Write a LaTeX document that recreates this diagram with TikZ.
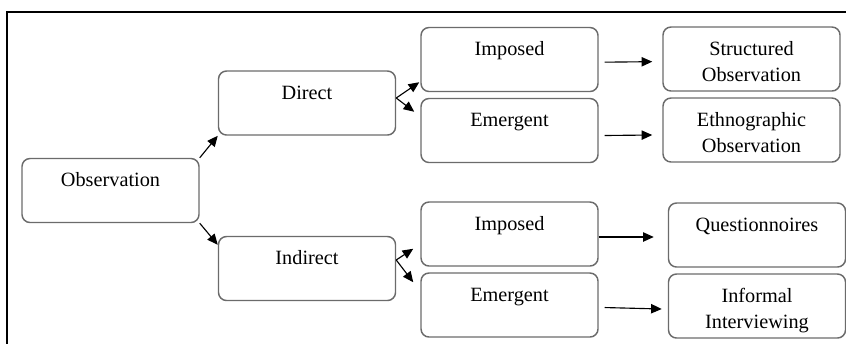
\documentclass[tikz,border=0pt]{standalone}
\usepackage{fontspec}
\setmainfont{Liberation Serif}
\usetikzlibrary{shapes, arrows.meta, positioning}
\newcommand{\topstrut}{\rule{0pt}{21pt}}
\newcommand{\botstrut}{\rule[-7pt]{0pt}{0pt}}

\begin{document}
\begin{tikzpicture}[
x=0.75pt, y=-0.75pt,
block/.style={rectangle, rounded corners=6pt, draw=black!58, line width=1.1pt,
    text width=132.75pt, minimum height=48pt, inner sep=0pt, align=center,
    font=\fontsize{15.2}{20}\selectfont, node distance=53.25pt},
line/.style={draw, line width=0.85pt, -{Triangle[length=8pt,width=7pt]}},
frame/.style={draw, line width=0.8pt}
]
\useasboundingbox (0,0) rectangle (846,344);
\draw [frame] (846,12) -- (7,12) -- (7,344);

\node [block] (obs) at (110.5,190.5) {\topstrut Observation\\\botstrut};
\node [block] (direct) at (307,103) {\topstrut Direct\\\botstrut};
\node [block] (indirect) at (307,268.5) {\topstrut Indirect\\\botstrut};

\node [block] (imp-d) at (509.5,59.5) {\topstrut Imposed\\\botstrut};
\node [block, below of=imp-d] (emg-d) {\topstrut Emergent\\\botstrut};
\node [block] (imp-i) at (509.5,234) {\topstrut Imposed\\\botstrut};
\node [block, below of=imp-i] (emg-i) {\topstrut Emergent\\\botstrut};

\node [block] (struct) at (751.5,59) {\topstrut Structured\\Observation\botstrut};
\node [block, below of=struct] (ethno) {\topstrut Ethnographic\\Observation\botstrut};
\node [block] (quest) at (757,235) {\topstrut Questionnoires\\\botstrut};
\node [block, below of=quest] (informal) {\topstrut Informal\\Interviewing\botstrut};

\draw [line] (obs.north east) -- (direct.south west);
\draw [line] (obs.south east) -- ([yshift=-6.75pt]indirect.north west);
\draw [line] ([yshift=3.75pt]direct.east) -- ([xshift=-0.75pt,yshift=7.5pt]imp-d.south west);
\draw [line] ([yshift=3.75pt]direct.east) -- ([xshift=-4.5pt,yshift=-10.5pt]emg-d.north west);
\draw [line] ([yshift=6.4pt]indirect.east) -- ([xshift=-5.25pt,yshift=13.5pt]imp-i.south west);
\draw [line] ([yshift=6.4pt]indirect.east) -- ([xshift=-5.25pt,yshift=-7.5pt]emg-i.north west);
\draw [line] ([xshift=4.5pt,yshift=-2pt]imp-d.east) -- ([xshift=-7.5pt,yshift=-2pt]struct.west);
\draw [line] ([xshift=4.5pt,yshift=-3.75pt]emg-d.east) -- ([xshift=-7.5pt,yshift=-3.75pt]ethno.west);
\draw [line] ([yshift=-2.25pt]imp-i.east) -- ([xshift=-10.5pt,yshift=-1.5pt]quest.west);
\draw [line] ([xshift=4.5pt,yshift=-1.9pt]emg-i.east) -- ([xshift=-4.5pt,yshift=-2.25pt]informal.west);
\end{tikzpicture}
\end{document}
